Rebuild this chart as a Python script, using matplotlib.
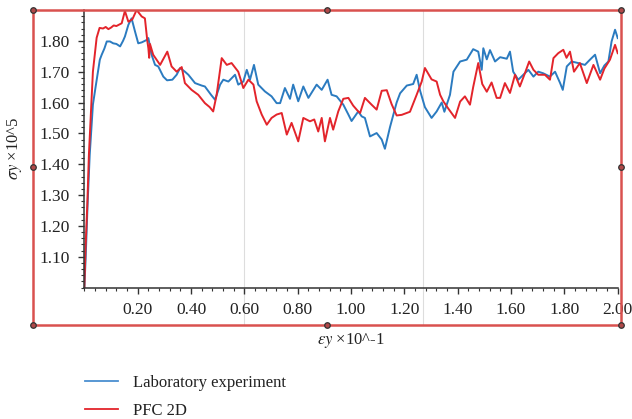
import matplotlib
matplotlib.use('Agg')
import matplotlib.pyplot as plt
from matplotlib.lines import Line2D
from matplotlib.patches import Rectangle
from matplotlib.ticker import MultipleLocator

plt.rcParams['font.family'] = ['Liberation Serif', 'DejaVu Serif']
plt.rcParams['mathtext.fontset'] = 'stix'

# Laboratory experiment
lab_x = [0.000, 0.005, 0.012, 0.020, 0.032, 0.042, 0.051, 0.058, 0.065, 0.075,
         0.084, 0.096, 0.108, 0.120, 0.134, 0.145, 0.152, 0.165, 0.177, 0.190,
         0.202, 0.215, 0.234, 0.240, 0.252, 0.265, 0.277, 0.296, 0.310, 0.330,
         0.346, 0.359, 0.377, 0.390, 0.415, 0.440, 0.452, 0.475, 0.490, 0.509,
         0.521, 0.540, 0.565, 0.577, 0.596, 0.609, 0.621, 0.636, 0.652, 0.677,
         0.702, 0.721, 0.734, 0.752, 0.771, 0.783, 0.802, 0.821, 0.840, 0.871,
         0.890, 0.912, 0.927, 0.946, 0.971, 0.990, 1.002, 1.027, 1.040, 1.052,
         1.071, 1.096, 1.115, 1.127, 1.146, 1.171, 1.184, 1.209, 1.233, 1.246,
         1.259, 1.277, 1.302, 1.321, 1.340, 1.350, 1.371, 1.384, 1.409, 1.434,
         1.458, 1.477, 1.490, 1.496, 1.509, 1.521, 1.540, 1.559, 1.584, 1.596,
         1.608, 1.627, 1.646, 1.665, 1.684, 1.702, 1.720, 1.746, 1.765, 1.784,
         1.794, 1.809, 1.827, 1.852, 1.877, 1.896, 1.915, 1.934, 1.950, 1.965,
         1.977, 1.990, 2.000]
lab_y = [1.000, 1.100, 1.269, 1.430, 1.593, 1.650, 1.700, 1.739, 1.755, 1.775,
         1.798, 1.798, 1.792, 1.790, 1.782, 1.800, 1.814, 1.852, 1.873, 1.830,
         1.792, 1.795, 1.803, 1.809, 1.755, 1.722, 1.717, 1.684, 1.672, 1.674,
         1.690, 1.712, 1.700, 1.690, 1.663, 1.655, 1.652, 1.625, 1.609, 1.658,
         1.674, 1.668, 1.690, 1.658, 1.668, 1.706, 1.674, 1.722, 1.658, 1.636,
         1.620, 1.598, 1.598, 1.647, 1.612, 1.658, 1.604, 1.652, 1.615, 1.658,
         1.641, 1.674, 1.625, 1.620, 1.593, 1.561, 1.540, 1.571, 1.555, 1.550,
         1.490, 1.501, 1.480, 1.450, 1.520, 1.600, 1.630, 1.655, 1.660, 1.690,
         1.638, 1.585, 1.550, 1.571, 1.600, 1.570, 1.625, 1.700, 1.733, 1.739,
         1.773, 1.765, 1.706, 1.776, 1.740, 1.770, 1.733, 1.747, 1.742, 1.765,
         1.700, 1.674, 1.690, 1.706, 1.684, 1.700, 1.695, 1.684, 1.700, 1.663,
         1.641, 1.717, 1.733, 1.728, 1.722, 1.739, 1.755, 1.695, 1.720, 1.733,
         1.798, 1.836, 1.809]

# PFC 2D
pfc_x = [0.000, 0.004, 0.011, 0.017, 0.026, 0.032, 0.039, 0.046, 0.057, 0.070,
         0.080, 0.090, 0.100, 0.110, 0.120, 0.140, 0.152, 0.165, 0.180, 0.196,
         0.215, 0.227, 0.236, 0.240, 0.243, 0.246, 0.258, 0.284, 0.311, 0.327,
         0.346, 0.365, 0.377, 0.402, 0.427, 0.452, 0.470, 0.483, 0.496, 0.515,
         0.534, 0.552, 0.577, 0.596, 0.615, 0.634, 0.646, 0.665, 0.684, 0.702,
         0.721, 0.740, 0.759, 0.777, 0.802, 0.821, 0.846, 0.862, 0.877, 0.890,
         0.902, 0.921, 0.933, 0.952, 0.971, 0.990, 1.008, 1.027, 1.034, 1.052,
         1.077, 1.096, 1.115, 1.134, 1.152, 1.171, 1.190, 1.221, 1.246, 1.265,
         1.277, 1.302, 1.321, 1.334, 1.346, 1.365, 1.390, 1.409, 1.427, 1.446,
         1.458, 1.477, 1.492, 1.509, 1.527, 1.546, 1.559, 1.577, 1.596, 1.615,
         1.633, 1.652, 1.668, 1.684, 1.702, 1.727, 1.746, 1.759, 1.777, 1.796,
         1.808, 1.821, 1.836, 1.858, 1.884, 1.909, 1.934, 1.950, 1.971, 1.990,
         2.000]
pfc_y = [1.000, 1.120, 1.269, 1.431, 1.593, 1.700, 1.755, 1.810, 1.842, 1.840,
         1.845, 1.838, 1.843, 1.850, 1.848, 1.857, 1.897, 1.862, 1.870, 1.900,
         1.879, 1.873, 1.800, 1.776, 1.745, 1.790, 1.755, 1.722, 1.765, 1.717,
         1.700, 1.715, 1.663, 1.641, 1.625, 1.598, 1.585, 1.571, 1.625, 1.744,
         1.722, 1.728, 1.700, 1.647, 1.674, 1.658, 1.604, 1.561, 1.528, 1.550,
         1.561, 1.566, 1.496, 1.534, 1.474, 1.550, 1.539, 1.545, 1.506, 1.550,
         1.474, 1.550, 1.512, 1.571, 1.612, 1.615, 1.590, 1.571, 1.566, 1.615,
         1.593, 1.577, 1.638, 1.640, 1.595, 1.558, 1.560, 1.570, 1.625, 1.668,
         1.712, 1.675, 1.668, 1.625, 1.604, 1.580, 1.550, 1.603, 1.620, 1.593,
         1.650, 1.728, 1.660, 1.635, 1.665, 1.615, 1.615, 1.663, 1.631, 1.690,
         1.652, 1.695, 1.733, 1.706, 1.690, 1.690, 1.674, 1.744, 1.760, 1.771,
         1.745, 1.765, 1.700, 1.728, 1.663, 1.722, 1.674, 1.710, 1.739, 1.787,
         1.760]

x_ticks = [0.2, 0.4, 0.6, 0.8, 1.0, 1.2, 1.4, 1.6, 1.8, 2.0]
y_ticks = [1.1, 1.2, 1.3, 1.4, 1.5, 1.6, 1.7, 1.8]

blue = '#2b7bc0'
red = '#e3242b'
frame_red = '#d9514f'

fig = plt.figure(figsize=(6.32, 4.19), dpi=100)
ax = fig.add_axes([0.1335, 0.3138, 0.8439, 0.6623])

# faint vertical page lines
for xv in [0.6, 1.27]:
    ax.axvline(xv, ymin=-0.135, ymax=1.0, color='#dddddd', lw=0.8,
               clip_on=False, zorder=0)

ax.plot(lab_x, lab_y, color=blue, lw=1.4)
ax.plot(pfc_x, pfc_y, color=red, lw=1.4)

ax.set_xlim(0, 2.0)
ax.set_ylim(1.0, 1.9)
ax.set_xticks(x_ticks)
ax.set_xticklabels(['%.2f' % v for v in x_ticks])
ax.set_yticks(y_ticks)
ax.set_yticklabels(['%.2f' % v for v in y_ticks])
ax.xaxis.set_minor_locator(MultipleLocator(0.04))
ax.yaxis.set_minor_locator(MultipleLocator(0.02))

for s in ['top', 'right']:
    ax.spines[s].set_visible(False)
for s in ['left', 'bottom']:
    ax.spines[s].set_color('#333333')
    ax.spines[s].set_linewidth(1.1)

ax.tick_params(which='major', length=4.5, width=1.0, color='#333333',
               labelsize=12.5, labelcolor='#222222', pad=6)
ax.tick_params(which='minor', length=2.5, width=0.8, color='#333333')

ax.set_xlabel(r'$\varepsilon y$ ×10^-1', fontsize=12, color='#222222')
ax.xaxis.set_label_coords(0.5, -0.158)
ax.set_ylabel(r'$\sigma y$ ×10^5', fontsize=12, color='#222222')
ax.yaxis.set_label_coords(-0.113, 0.5)

# red selection frame with handles
x0, x1 = 33 / 632, 621 / 632
y0, y1 = 1 - 325 / 419, 1 - 10 / 419
fig.patches.append(Rectangle((x0, y0), x1 - x0, y1 - y0, transform=fig.transFigure,
                             fill=False, edgecolor=frame_red, lw=1.8, zorder=5))
xm, ym = (x0 + x1) / 2, (y0 + y1) / 2
hx = [x0, xm, x1, x0, x1, x0, xm, x1]
hy = [y1, y1, y1, ym, ym, y0, y0, y0]
fig.add_artist(Line2D(hx, hy, transform=fig.transFigure, ls='none', marker='o',
                      ms=4, mfc='#b04848', mec='#333333', mew=0.9, zorder=6))

handles = [Line2D([], [], color='#4a8fd0', lw=1.3),
           Line2D([], [], color=red, lw=1.3)]
fig.legend(handles, ['Laboratory experiment', 'PFC 2D'], loc='upper left',
           bbox_to_anchor=(0.1345, 0.106), frameon=False, fontsize=12,
           handlelength=2.0, handletextpad=0.85, labelspacing=0.72,
           borderpad=0, borderaxespad=0, labelcolor='#222222')

plt.savefig('out.png', dpi=100)
